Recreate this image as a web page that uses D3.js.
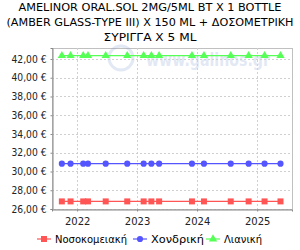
<!DOCTYPE html>
<html>
<head>
<meta charset="utf-8">
<script src="https://cdn.jsdelivr.net/npm/d3@7"></script>
<style>
  body { margin: 0; background: #fff; }
  svg { display: block; font-family: "DejaVu Sans", sans-serif; }
</style>
</head>
<body>
<svg id="chart" width="300" height="250"></svg>
<script>
// Chart data
const titleLines = [
  "AMELINOR ORAL.SOL 2MG/5ML BT X 1 BOTTLE",
  "(AMBER GLASS-TYPE III) X 150 ML + ΔΟΣΟΜΕΤΡΙΚΗ",
  "ΣΥΡΙΓΓΑ X 5 ML",
];
const dates = [
  "2021-09-30", "2021-11-22", "2022-02-07", "2022-03-08", "2022-06-24",
  "2022-11-02", "2023-02-10", "2023-03-29", "2023-05-15", "2023-12-01",
  "2024-02-12", "2024-07-24", "2024-11-10", "2025-02-15", "2025-05-23",
];
const hospital = [26.81, 26.81, 26.81, 26.81, 26.81, 26.81, 26.81, 26.81, 26.81, 26.81, 26.81, 26.81, 26.81, 26.81, 26.81];
const wholesale = [30.83, 30.83, 30.83, 30.83, 30.83, 30.83, 30.83, 30.83, 30.83, 30.83, 30.83, 30.83, 30.83, 30.83, 30.83];
const retail = [42.35, 42.35, 42.35, 42.35, 42.35, 42.35, 42.35, 42.35, 42.35, 42.35, 42.35, 42.35, 42.35, 42.35, 42.35];
const seriesNames = ["Νοσοκομειακή", "Χονδρική", "Λιανική"];
const yTicks = [26, 28, 30, 32, 34, 36, 38, 40, 42];
const xTicks = ["2022-01-01", "2023-01-01", "2024-01-01", "2025-01-01"];

const parse = d3.timeParse("%Y-%m-%d");
const svg = d3.select("#chart");

const plot = { left: 52, right: 292, top: 48, bottom: 209 };

const x = d3.scaleTime()
  .domain([parse("2021-08-01"), parse("2025-08-01")])
  .range([plot.left, plot.right]);
const y = d3.scaleLinear()
  .domain([26, 43.17])
  .range([plot.bottom, plot.top]);

// Title (widths fitted to the reference)
const titleWidths = [263, 287, 93];
svg.append("g")
  .selectAll("text")
  .data(titleLines)
  .enter()
  .append("text")
  .attr("x", 150)
  .attr("y", (d, i) => 11 + i * 15)
  .attr("text-anchor", "middle")
  .attr("font-size", "10.5px")
  .attr("fill", "#000")
  .attr("textLength", (d, i) => titleWidths[i])
  .attr("lengthAdjust", "spacingAndGlyphs")
  .text((d) => d);

// Plot background
svg.append("rect")
  .attr("x", plot.left + 0.5)
  .attr("y", plot.top + 0.5)
  .attr("width", plot.right - plot.left)
  .attr("height", plot.bottom - plot.top)
  .attr("fill", "#fff")
  .attr("stroke", "#c0c0c0")
  .attr("stroke-width", 1);

// Watermark
const wm = svg.append("g").attr("opacity", 0.22);
wm.append("circle")
  .attr("cx", 121).attr("cy", 58).attr("r", 12)
  .attr("fill", "none").attr("stroke", "#7f9bcf").attr("stroke-width", 3);
wm.append("text")
  .attr("x", 146).attr("y", 66)
  .attr("font-size", "18px").attr("font-weight", "bold")
  .attr("fill", "#7f9bcf")
  .attr("textLength", 124)
  .attr("lengthAdjust", "spacingAndGlyphs")
  .text("www.galinos.gr");

// Grid lines
const grid = svg.append("g")
  .attr("stroke", "#d0d0d0")
  .attr("stroke-dasharray", "2,2")
  .attr("stroke-width", 1);
grid.selectAll(".gy")
  .data(yTicks)
  .enter()
  .append("line")
  .attr("x1", plot.left)
  .attr("x2", plot.right)
  .attr("y1", (d) => Math.round(y(d)) + 0.5)
  .attr("y2", (d) => Math.round(y(d)) + 0.5);
grid.selectAll(".gx")
  .data(xTicks)
  .enter()
  .append("line")
  .attr("y1", plot.top)
  .attr("y2", plot.bottom)
  .attr("x1", (d) => Math.round(x(parse(d))) + 0.5)
  .attr("x2", (d) => Math.round(x(parse(d))) + 0.5);

// Axes
const yAxis = d3.axisLeft(y)
  .tickValues(yTicks)
  .tickSize(2)
  .tickPadding(4)
  .tickFormat((d) => d3.format(".2f")(d).replace(".", ",") + " €");
const yg = svg.append("g")
  .attr("transform", `translate(${plot.left + 0.5},0)`)
  .call(yAxis);

const xAxis = d3.axisBottom(x)
  .tickValues(xTicks.map(parse))
  .tickSize(2)
  .tickPadding(6)
  .tickFormat(d3.timeFormat("%Y"));
const xg = svg.append("g")
  .attr("transform", `translate(0,${plot.bottom + 0.5})`)
  .call(xAxis);

[yg, xg].forEach((g) => {
  g.select(".domain").attr("stroke", "#888");
  g.selectAll(".tick line").attr("stroke", "#888");
  g.selectAll(".tick text")
    .attr("font-size", "10px")
    .attr("font-family", "DejaVu Sans, sans-serif")
    .attr("fill", "#222");
});
yg.selectAll(".tick text")
  .attr("textLength", 35)
  .attr("lengthAdjust", "spacingAndGlyphs");

// Series
const series = [
  { name: seriesNames[0], values: hospital, color: "#ff5555", shape: d3.symbolSquare, size: 36 },
  { name: seriesNames[1], values: wholesale, color: "#5555ff", shape: d3.symbolCircle, size: 30 },
  { name: seriesNames[2], values: retail, color: "#55ff55", shape: d3.symbolTriangle, size: 30 },
];

const line = d3.line()
  .x((d) => x(d.date))
  .y((d) => y(d.value));

series.forEach((s) => {
  const pts = dates.map((d, i) => ({ date: parse(d), value: s.values[i] }));
  svg.append("path")
    .datum(pts)
    .attr("fill", "none")
    .attr("stroke", s.color)
    .attr("stroke-width", 1.2)
    .attr("d", line);
  svg.append("g")
    .selectAll("path")
    .data(pts)
    .enter()
    .append("path")
    .attr("transform", (d) => `translate(${x(d.date)},${y(d.value)})`)
    .attr("d", d3.symbol().type(s.shape).size(s.size))
    .attr("fill", s.color);
});

// Legend
const legendX = [37, 133, 206];
const legendW = [72, 53, 38];
const legend = svg.append("g")
  .selectAll("g")
  .data(series)
  .enter()
  .append("g")
  .attr("transform", (d, i) => `translate(${legendX[i]},239)`);
legend.append("line")
  .attr("x1", 0).attr("x2", 14)
  .attr("stroke", (d) => d.color)
  .attr("stroke-width", 1.2);
legend.append("path")
  .attr("transform", "translate(7,0)")
  .attr("d", (d) => d3.symbol().type(d.shape).size(d.size)())
  .attr("fill", (d) => d.color);
legend.append("text")
  .attr("x", 18)
  .attr("y", 4)
  .attr("font-size", "10.5px")
  .attr("fill", "#000")
  .attr("textLength", (d, i) => legendW[i])
  .attr("lengthAdjust", "spacingAndGlyphs")
  .text((d) => d.name);
</script>
</body>
</html>
